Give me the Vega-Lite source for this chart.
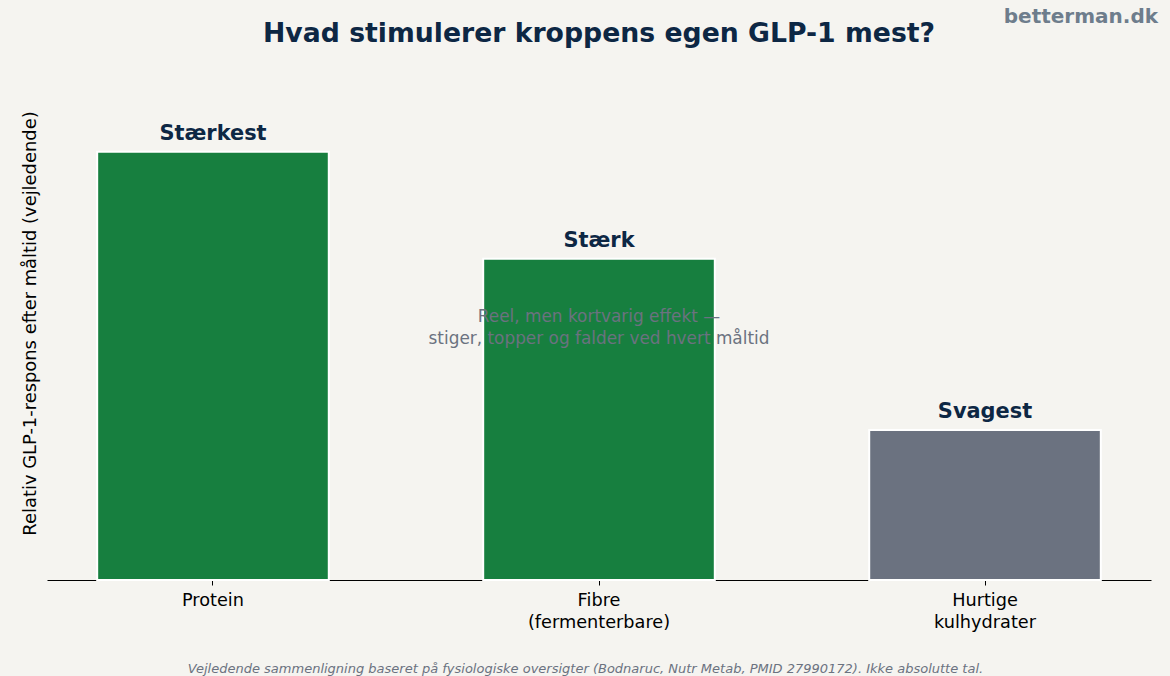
{
  "$schema": "https://vega.github.io/schema/vega-lite/v6.json",
  "width": 1104,
  "height": 514,
  "autosize": "none",
  "padding": {"left": 47, "top": 66, "right": 19, "bottom": 96},
  "background": "#f5f4f0",
  "config": {
    "font": "DejaVu Sans",
    "view": {"stroke": null},
    "title": {"font": "DejaVu Sans"},
    "axis": {"labelFont": "DejaVu Sans", "titleFont": "DejaVu Sans"}
  },
  "title": {
    "text": "Hvad stimulerer kroppens egen GLP-1 mest?",
    "fontSize": 26.7,
    "fontWeight": "bold",
    "color": "#0d2744",
    "anchor": "middle",
    "offset": 20,
    "dy": 61
  },
  "data": {
    "values": [
      {"kategori": "Protein", "respons": 1.0, "niveau": "Stærkest"},
      {"kategori": "Fibre\n(fermenterbare)", "respons": 0.75, "niveau": "Stærk"},
      {"kategori": "Hurtige\nkulhydrater", "respons": 0.35, "niveau": "Svagest"}
    ]
  },
  "layer": [
    {
      "mark": {"type": "bar", "stroke": "#ffffff", "strokeWidth": 2},
      "encoding": {
        "x": {
          "field": "kategori",
          "type": "nominal",
          "sort": null,
          "scale": {"paddingInner": 0.4, "paddingOuter": 0.13},
          "axis": {
            "title": "Vejledende sammenligning baseret på fysiologiske oversigter (Bodnaruc, Nutr Metab, PMID 27990172). Ikke absolutte tal.",
            "titleFontSize": 13,
            "titleFontStyle": "italic",
            "titleFontWeight": "normal",
            "titleColor": "#6b7280",
            "titleX": 538,
            "titleY": 92,
            "titleBaseline": "alphabetic",
            "labelAngle": 0,
            "labelFontSize": 17.7,
            "labelColor": "#000000",
            "labelPadding": 6,
            "labelLineHeight": 22,
            "labelExpr": "split(datum.label, '\\n')",
            "domainColor": "#000000",
            "domainWidth": 1.2,
            "tickColor": "#000000",
            "tickSize": 5,
            "tickWidth": 1,
            "grid": false
          }
        },
        "y": {
          "field": "respons",
          "type": "quantitative",
          "scale": {"domain": [0, 1.2], "nice": false},
          "axis": {
            "title": "Relativ GLP-1-respons efter måltid (vejledende)",
            "titleFontSize": 17.9,
            "titleFontWeight": "normal",
            "titleColor": "#000000",
            "titlePadding": 8,
            "labels": false,
            "ticks": false,
            "domain": false,
            "grid": false
          }
        },
        "color": {
          "field": "niveau",
          "type": "nominal",
          "scale": {"domain": ["Stærkest", "Stærk", "Svagest"], "range": ["#177f3f", "#177f3f", "#6b7280"]},
          "legend": null
        }
      }
    },
    {
      "mark": {"type": "text", "fontSize": 20.9, "fontWeight": "bold", "color": "#0d2744", "baseline": "alphabetic", "dy": -12},
      "encoding": {
        "x": {"field": "kategori", "type": "nominal", "sort": null},
        "y": {"field": "respons", "type": "quantitative"},
        "text": {"field": "niveau"}
      }
    },
    {
      "data": {"values": [{"note": "Fibre\n(fermenterbare)"}]},
      "mark": {
        "type": "text",
        "text": ["Reel, men kortvarig effekt —", "stiger, topper og falder ved hvert måltid"],
        "fontSize": 16.9,
        "lineHeight": 22,
        "color": "#6b7280",
        "baseline": "middle",
        "align": "center"
      },
      "encoding": {
        "x": {"datum": "Fibre\n(fermenterbare)"},
        "y": {"datum": 0.613}
      }
    },
    {
      "data": {"values": [{"site": "betterman.dk"}]},
      "mark": {
        "type": "text",
        "fontSize": 20,
        "fontWeight": "bold",
        "color": "#6e7d8c",
        "align": "right",
        "baseline": "alphabetic",
        "x": 1111,
        "y": -43
      },
      "encoding": {"text": {"field": "site"}}
    }
  ]
}
